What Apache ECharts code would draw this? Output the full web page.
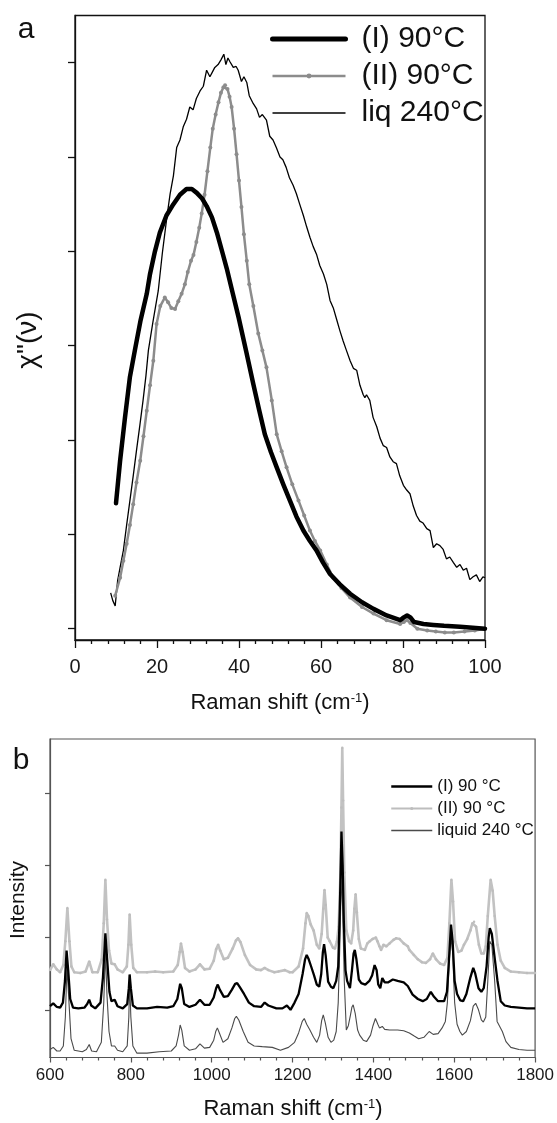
<!DOCTYPE html>
<html><head><meta charset="utf-8">
<script src="https://cdn.jsdelivr.net/npm/echarts@6/dist/echarts.min.js"></script>
<style>html,body{margin:0;padding:0;background:#fff}#c{width:557px;height:1123px}</style>
</head><body><div id="c"></div>
<script>
// ---------- Panel a: chi''(nu) vs Raman shift (cm-1), tick spacing = 1 unit ----------
const aTicksX = [0, 20, 40, 60, 80, 100];
const aTicksY = [0, 1, 2, 3, 4, 5, 6];
const aNames = ['(I) 90°C', '(II) 90°C', 'liq 240°C'];
const aI = [[10.0,1.33],[11.0,1.78],[12.2,2.24],[13.4,2.67],[14.6,2.95],[16.0,3.27],[17.5,3.55],[18.3,3.76],[19.5,4.0],[20.7,4.20],[22.3,4.38],[24.0,4.50],[25.6,4.60],[27.2,4.66],[28.5,4.66],[29.7,4.62],[31.0,4.56],[32.1,4.48],[33.4,4.36],[34.6,4.20],[36.0,3.98],[37.0,3.82],[38.5,3.55],[39.9,3.30],[41.8,2.93],[43.5,2.59],[44.9,2.32],[46.3,2.06],[47.8,1.87],[49.2,1.71],[50.8,1.53],[52.4,1.36],[54.0,1.19],[55.7,1.04],[57.3,0.93],[58.9,0.83],[60.5,0.70],[62.2,0.58],[64.6,0.47],[67.1,0.37],[70.0,0.28],[72.8,0.21],[76.0,0.14],[79.3,0.09],[80.2,0.12],[81.0,0.14],[81.8,0.12],[82.7,0.07],[85.0,0.05],[87.4,0.04],[90.0,0.03],[93.9,0.02],[97.0,0.01],[100,0.0]];
const aII = [[9.8,0.35],[11.0,0.54],[11.8,0.72],[12.6,0.90],[13.4,1.10],[14.2,1.32],[15.0,1.55],[15.9,1.78],[16.7,2.04],[17.5,2.31],[18.3,2.58],[19.1,2.84],[19.9,3.23],[20.8,3.42],[21.9,3.51],[22.7,3.46],[23.5,3.40],[24.4,3.39],[25.2,3.47],[26.0,3.55],[26.8,3.65],[27.5,3.78],[28.3,3.90],[28.9,3.96],[29.6,4.10],[30.3,4.25],[30.9,4.40],[31.6,4.60],[32.3,4.85],[33.0,5.10],[33.6,5.30],[34.3,5.45],[35.0,5.58],[35.6,5.68],[36.2,5.74],[36.6,5.76],[37.2,5.72],[37.7,5.64],[38.2,5.53],[38.8,5.30],[39.4,5.03],[40.0,4.75],[40.6,4.47],[41.2,4.18],[41.9,3.90],[42.5,3.65],[43.5,3.42],[44.7,3.13],[45.7,2.95],[46.7,2.77],[48.0,2.42],[49.2,2.06],[50.4,1.88],[51.6,1.71],[53.0,1.53],[54.5,1.36],[55.9,1.20],[57.3,1.04],[58.5,0.93],[59.8,0.83],[61.4,0.68],[63.0,0.54],[65.0,0.43],[67.1,0.33],[70.0,0.23],[72.8,0.16],[76.0,0.09],[79.3,0.05],[80.2,0.07],[81.0,0.09],[81.8,0.06],[83.5,0.0],[85.9,-0.02],[88.0,-0.03],[90.2,-0.04],[92.4,-0.04],[95.0,-0.03],[97.5,-0.02],[100,0.0]];
const aLiq = [[8.7,0.38],[9.2,0.30],[9.8,0.24],[10.4,0.51],[11.0,0.65],[11.8,0.83],[12.6,1.10],[13.4,1.36],[14.2,1.62],[15.0,1.89],[15.8,2.15],[16.6,2.42],[17.3,2.68],[17.9,2.95],[19.0,3.25],[20.3,3.58],[21.3,3.98],[22.4,4.36],[23.2,4.61],[24.0,4.80],[24.8,5.10],[25.6,5.18],[26.4,5.32],[27.2,5.40],[28.0,5.53],[28.8,5.50],[29.6,5.62],[30.5,5.70],[31.3,5.75],[32.1,5.92],[32.9,5.85],[33.5,5.90],[34.1,5.95],[34.9,5.98],[35.6,6.03],[36.3,6.09],[36.8,5.98],[37.3,6.05],[37.8,6.01],[38.6,5.95],[39.3,5.96],[39.8,5.92],[40.6,5.80],[41.2,5.85],[41.9,5.79],[42.5,5.65],[43.3,5.58],[44.3,5.51],[45.0,5.42],[45.7,5.45],[46.7,5.39],[47.5,5.22],[48.3,5.18],[49.1,5.10],[50.0,5.00],[50.7,4.97],[51.5,4.89],[52.3,4.78],[53.2,4.70],[54.0,4.61],[54.8,4.50],[55.7,4.38],[56.5,4.26],[57.3,4.15],[58.1,4.05],[58.9,3.97],[59.7,3.85],[60.6,3.76],[61.4,3.65],[62.2,3.48],[63.0,3.40],[63.8,3.28],[64.6,3.16],[65.0,3.14],[65.4,3.05],[66.2,2.95],[67.1,2.84],[67.9,2.76],[68.7,2.74],[69.5,2.58],[70.3,2.48],[70.7,2.45],[71.1,2.48],[71.9,2.42],[72.7,2.24],[73.6,2.14],[74.4,2.02],[75.2,1.94],[76.0,1.92],[76.8,1.82],[77.6,1.77],[78.4,1.75],[79.2,1.62],[80.1,1.52],[80.9,1.47],[81.7,1.43],[82.5,1.30],[83.3,1.20],[84.1,1.14],[84.9,1.12],[85.8,1.06],[86.6,1.04],[87.4,0.86],[88.2,0.90],[89.0,0.88],[89.8,0.84],[90.6,0.74],[91.4,0.76],[92.3,0.70],[93.1,0.65],[93.9,0.68],[94.7,0.62],[95.5,0.64],[96.3,0.52],[97.1,0.55],[97.9,0.57],[98.7,0.50],[99.5,0.55],[100,0.54]];

// ---------- Panel b: Raman intensity (offset spectra), tick spacing = 1 unit ----------
const bTicksX = [600, 800, 1000, 1200, 1400, 1600, 1800];
const bTicksY = [0, 1, 2, 3];
const bNames = ['(I) 90 °C', '(II) 90 °C', 'liquid 240 °C'];
const bI = [[600,0.05],[608,0.09],[617,0.04],[625,0.03],[632,0.10],[637,0.40],[641,0.82],[645,0.55],[650,0.15],[657,0.03],[670,0.02],[685,0.03],[692,0.08],[697,0.14],[702,0.06],[712,0.02],[725,0.10],[731,0.45],[737,1.06],[742,0.65],[747,0.25],[752,0.12],[760,0.14],[767,0.05],[780,0.02],[791,0.08],[795,0.30],[797,0.49],[800,0.30],[805,0.06],[815,0.02],[840,0.02],[865,0.04],[890,0.03],[905,0.05],[915,0.15],[922,0.36],[926,0.30],[932,0.08],[945,0.04],[960,0.07],[971,0.14],[982,0.07],[995,0.07],[1005,0.17],[1011,0.30],[1015,0.35],[1020,0.28],[1030,0.18],[1040,0.19],[1050,0.28],[1058,0.36],[1063,0.37],[1070,0.31],[1080,0.22],[1092,0.10],[1105,0.05],[1122,0.04],[1131,0.10],[1140,0.06],[1160,0.02],[1175,0.02],[1186,0.06],[1195,0.0],[1205,0.10],[1215,0.22],[1225,0.50],[1231,0.70],[1235,0.76],[1240,0.70],[1246,0.60],[1253,0.48],[1260,0.35],[1266,0.32],[1271,0.50],[1275,0.80],[1278,0.91],[1282,0.75],[1288,0.39],[1295,0.32],[1301,0.30],[1308,0.40],[1313,0.60],[1317,1.40],[1321,2.47],[1324,2.00],[1327,1.20],[1331,0.55],[1335,0.40],[1342,0.30],[1347,0.55],[1351,0.78],[1354,0.83],[1358,0.70],[1364,0.42],[1370,0.37],[1380,0.35],[1390,0.40],[1397,0.48],[1403,0.62],[1408,0.55],[1412,0.35],[1417,0.30],[1422,0.44],[1428,0.38],[1436,0.38],[1448,0.42],[1460,0.40],[1475,0.38],[1485,0.33],[1497,0.21],[1510,0.15],[1522,0.12],[1532,0.15],[1542,0.25],[1550,0.18],[1560,0.12],[1575,0.12],[1582,0.25],[1587,0.70],[1592,1.18],[1596,0.95],[1601,0.40],[1607,0.22],[1615,0.13],[1622,0.12],[1630,0.22],[1640,0.45],[1647,0.58],[1652,0.50],[1660,0.30],[1667,0.25],[1673,0.30],[1680,0.60],[1685,1.00],[1688,1.13],[1693,1.05],[1700,0.72],[1707,0.40],[1715,0.12],[1725,0.06],[1740,0.04],[1760,0.03],[1780,0.02],[1800,0.02]];
const bII = [[600,0.55],[608,0.63],[617,0.56],[625,0.52],[633,0.62],[638,0.95],[643,1.41],[648,0.95],[653,0.60],[660,0.52],[675,0.51],[688,0.53],[697,0.67],[705,0.52],[718,0.52],[728,0.70],[733,1.20],[737,1.80],[741,1.25],[746,0.82],[752,0.64],[760,0.63],[767,0.56],[780,0.52],[790,0.60],[794,0.90],[797,1.32],[801,0.90],[806,0.58],[815,0.52],[840,0.52],[860,0.53],[880,0.52],[905,0.53],[916,0.62],[921,0.80],[924,0.92],[928,0.80],[934,0.58],[945,0.53],[960,0.56],[971,0.63],[982,0.56],[995,0.57],[1005,0.68],[1011,0.84],[1016,0.90],[1021,0.82],[1030,0.70],[1040,0.72],[1052,0.85],[1060,0.96],[1065,0.99],[1071,0.94],[1082,0.76],[1095,0.62],[1110,0.56],[1122,0.55],[1131,0.58],[1140,0.55],[1155,0.52],[1165,0.53],[1181,0.55],[1193,0.52],[1200,0.52],[1215,0.60],[1226,0.85],[1232,1.20],[1235,1.34],[1239,1.30],[1245,1.18],[1252,1.10],[1260,0.90],[1266,0.85],[1272,1.05],[1276,1.40],[1279,1.66],[1282,1.45],[1287,1.00],[1292,0.95],[1300,0.86],[1305,0.85],[1310,0.95],[1314,1.15],[1318,1.80],[1321,2.80],[1323,3.63],[1325,2.90],[1328,1.90],[1333,1.10],[1340,0.95],[1345,0.92],[1350,1.10],[1353,1.40],[1356,1.60],[1359,1.35],[1364,0.98],[1369,0.85],[1379,0.83],[1385,0.92],[1391,0.95],[1398,0.98],[1406,1.00],[1410,0.95],[1415,0.88],[1419,0.83],[1425,0.90],[1432,0.88],[1440,0.92],[1450,0.97],[1456,0.99],[1465,0.98],[1475,0.92],[1485,0.88],[1489,0.83],[1500,0.76],[1510,0.70],[1520,0.66],[1530,0.65],[1540,0.70],[1547,0.78],[1555,0.70],[1565,0.64],[1575,0.62],[1583,0.72],[1588,1.20],[1593,1.80],[1597,1.50],[1602,0.95],[1610,0.80],[1618,0.82],[1624,0.90],[1632,0.98],[1640,1.10],[1645,1.20],[1649,1.22],[1654,1.15],[1661,0.90],[1667,0.78],[1673,0.78],[1678,0.88],[1683,1.30],[1690,1.80],[1695,1.65],[1700,1.30],[1707,0.90],[1715,0.68],[1725,0.58],[1740,0.53],[1760,0.52],[1780,0.51],[1800,0.51]];
const bLiq = [[600,-0.55],[608,-0.52],[617,-0.57],[625,-0.57],[633,-0.50],[638,-0.10],[642,0.60],[647,0.10],[652,-0.40],[660,-0.56],[680,-0.58],[690,-0.55],[697,-0.48],[703,-0.57],[715,-0.58],[727,-0.45],[733,0.10],[737,0.80],[741,0.20],[746,-0.30],[752,-0.50],[760,-0.50],[767,-0.56],[780,-0.58],[791,-0.50],[795,-0.10],[797,0.40],[800,-0.10],[805,-0.50],[815,-0.60],[840,-0.60],[870,-0.58],[900,-0.57],[912,-0.50],[918,-0.35],[922,-0.21],[926,-0.28],[932,-0.50],[945,-0.56],[960,-0.54],[971,-0.47],[982,-0.53],[995,-0.52],[1005,-0.42],[1010,-0.30],[1014,-0.25],[1019,-0.32],[1028,-0.45],[1040,-0.40],[1050,-0.25],[1057,-0.12],[1061,-0.09],[1067,-0.14],[1078,-0.30],[1090,-0.45],[1105,-0.50],[1125,-0.51],[1150,-0.52],[1170,-0.56],[1190,-0.52],[1205,-0.45],[1215,-0.32],[1224,-0.16],[1229,-0.12],[1235,-0.20],[1243,-0.28],[1252,-0.38],[1260,-0.45],[1267,-0.35],[1272,-0.15],[1276,-0.07],[1281,-0.18],[1288,-0.38],[1295,-0.45],[1302,-0.42],[1308,-0.30],[1313,0.10],[1317,0.90],[1321,1.90],[1324,1.40],[1328,0.40],[1333,-0.28],[1338,-0.22],[1343,-0.08],[1347,0.04],[1350,0.07],[1355,-0.05],[1361,-0.28],[1366,-0.35],[1375,-0.42],[1383,-0.44],[1393,-0.35],[1399,-0.22],[1405,-0.12],[1411,-0.20],[1415,-0.25],[1422,-0.23],[1428,-0.27],[1440,-0.28],[1460,-0.28],[1475,-0.29],[1489,-0.32],[1500,-0.36],[1512,-0.40],[1525,-0.38],[1538,-0.30],[1548,-0.34],[1560,-0.33],[1570,-0.25],[1578,-0.16],[1583,0.10],[1588,0.70],[1592,1.00],[1596,0.80],[1601,0.10],[1607,-0.20],[1614,-0.30],[1620,-0.35],[1630,-0.30],[1640,-0.15],[1647,0.05],[1653,0.09],[1660,0.00],[1667,-0.14],[1672,-0.17],[1678,-0.10],[1683,0.40],[1688,0.95],[1693,0.90],[1700,0.40],[1706,-0.16],[1719,-0.30],[1728,-0.44],[1740,-0.52],[1760,-0.55],[1780,-0.56],[1800,-0.56]];

const FONT = 'Liberation Sans, Arial, Helvetica, sans-serif';
const chart = echarts.init(document.getElementById('c'), null, {renderer: 'canvas'});

function xAx(gi, mn, mx, iv, labFont, margin, col, lw, tl) {
  return {
    type: 'value', gridIndex: gi, min: mn, max: mx, interval: iv,
    axisLine: {show: true, onZero: false, lineStyle: {color: col, width: lw}},
    axisTick: {show: true, inside: false, length: tl, lineStyle: {color: col, width: lw}},
    minorTick: {show: true, splitNumber: 5, length: Math.round(tl * 0.55), lineStyle: {color: col, width: lw}},
    axisLabel: {show: true, margin: margin, color: '#1a1a1a', fontSize: labFont, fontFamily: FONT, formatter: v => String(v)},
    splitLine: {show: false}, minorSplitLine: {show: false}
  };
}
function yAx(gi, mn, mx, ticks, col, lw, tl) {
  return {
    type: 'value', gridIndex: gi, min: mn, max: mx,
    axisLine: {show: true, onZero: false, lineStyle: {color: col, width: lw}},
    axisTick: {show: true, inside: false, length: tl, customValues: ticks, lineStyle: {color: col, width: lw}},
    axisLabel: {show: false, customValues: ticks},
    splitLine: {show: false}
  };
}
const noSym = {opacity: 0};

chart.setOption({
  animation: false,
  backgroundColor: '#fff',
  grid: [
    {left: 75, right: 72, top: 15.5, bottom: 483, show: true, borderColor: '#111', borderWidth: 1.3, backgroundColor: 'transparent'},
    {left: 50, right: 21, top: 739, bottom: 65.5, show: true, borderColor: '#555', borderWidth: 1.2, backgroundColor: 'transparent'}
  ],
  xAxis: [
    xAx(0, aTicksX[0], aTicksX[aTicksX.length - 1], aTicksX[1] - aTicksX[0], 20, 17, '#111', 1.3, 8),
    xAx(1, bTicksX[0], bTicksX[bTicksX.length - 1], bTicksX[1] - bTicksX[0], 17, 9, '#555', 1.2, 5)
  ],
  yAxis: [
    yAx(0, -0.12, 6.5, aTicksY, '#111', 1.3, 7),
    yAx(1, -0.66, 3.75, bTicksY, '#555', 1.2, 5)
  ],
  legend: [
    {
      orient: 'vertical', left: 265, top: 19, itemWidth: 73, itemHeight: 6, itemGap: 7,
      data: [
        {name: aNames[0], itemStyle: noSym, lineStyle: {width: 5, color: '#000'}},
        {name: aNames[1], lineStyle: {width: 2.5, color: '#8c8c8c'}},
        {name: aNames[2], itemStyle: noSym, lineStyle: {width: 1.5, color: '#000'}}
      ],
      selectedMode: false,
      textStyle: {fontSize: 30, lineHeight: 30, color: '#111', fontFamily: FONT, padding: [0, 0, 0, 11]}
    },
    {
      orient: 'vertical', left: 385, top: 773, itemWidth: 41, itemHeight: 4, itemGap: 5,
      data: [
        {name: bNames[0], itemStyle: noSym, lineStyle: {width: 2.5, color: '#000'}},
        {name: bNames[1], lineStyle: {width: 2, color: '#bdbdbd'}},
        {name: bNames[2], itemStyle: noSym, lineStyle: {width: 1.5, color: '#4a4a4a'}}
      ],
      selectedMode: false,
      textStyle: {fontSize: 17, lineHeight: 17, color: '#111', fontFamily: FONT, padding: [0, 0, 0, 0]}
    }
  ],
  series: [
    {name: aNames[2], type: 'line', xAxisIndex: 0, yAxisIndex: 0, data: aLiq, symbol: 'none',
     lineStyle: {color: '#000', width: 1.3}, itemStyle: {color: '#000'}, z: 3},
    {name: aNames[1], type: 'line', xAxisIndex: 0, yAxisIndex: 0, data: aII, symbol: 'circle', symbolSize: 4,
     showSymbol: true, showAllSymbol: true,
     lineStyle: {color: '#8c8c8c', width: 2.5}, itemStyle: {color: '#8c8c8c'}, z: 4},
    {name: aNames[0], type: 'line', xAxisIndex: 0, yAxisIndex: 0, data: aI, symbol: 'none',
     lineStyle: {color: '#000', width: 4.5, cap: 'round', join: 'round'}, itemStyle: {color: '#000'}, z: 5},

    {name: bNames[2], type: 'line', xAxisIndex: 1, yAxisIndex: 1, data: bLiq, symbol: 'none',
     lineStyle: {color: '#4a4a4a', width: 1.1}, itemStyle: {color: '#4a4a4a'}, z: 3},
    {name: bNames[1], type: 'line', xAxisIndex: 1, yAxisIndex: 1, data: bII, symbol: 'circle', symbolSize: 2.5,
     showSymbol: true, showAllSymbol: true,
     lineStyle: {color: '#c2c2c2', width: 2.6}, itemStyle: {color: '#bdbdbd'}, z: 4},
    {name: bNames[0], type: 'line', xAxisIndex: 1, yAxisIndex: 1, data: bI, symbol: 'none',
     lineStyle: {color: '#000', width: 2.3}, itemStyle: {color: '#000'}, z: 5}
  ],
  graphic: [
    {type: 'text', x: 26, y: 30, style: {text: 'a', fontSize: 30, fontFamily: FONT, fill: '#111', textAlign: 'center', textVerticalAlign: 'middle'}},
    {type: 'text', x: 21, y: 761, style: {text: 'b', fontSize: 30, fontFamily: FONT, fill: '#111', textAlign: 'center', textVerticalAlign: 'middle'}},
    {type: 'text', x: 28, y: 340, rotation: Math.PI / 2, style: {text: 'χ"(ν)', fontSize: 28, fontFamily: FONT, fill: '#111', textAlign: 'center', textVerticalAlign: 'middle'}},
    {type: 'text', x: 18, y: 900, rotation: Math.PI / 2, style: {text: 'Intensity', fontSize: 21, fontFamily: FONT, fill: '#111', textAlign: 'center', textVerticalAlign: 'middle'}},
    {type: 'text', x: 280, y: 703, style: {text: 'Raman shift (cm{s|-1})', fontSize: 22, fontFamily: FONT, fill: '#111', textAlign: 'center', textVerticalAlign: 'middle',
      rich: {s: {fontSize: 13, fontFamily: FONT, fill: '#111', verticalAlign: 'top', padding: [0, 0, 10, 0]}}}},
    {type: 'text', x: 293, y: 1109, style: {text: 'Raman shift (cm{s|-1})', fontSize: 22, fontFamily: FONT, fill: '#111', textAlign: 'center', textVerticalAlign: 'middle',
      rich: {s: {fontSize: 13, fontFamily: FONT, fill: '#111', verticalAlign: 'top', padding: [0, 0, 10, 0]}}}}
  ]
});
</script>
</body></html>
